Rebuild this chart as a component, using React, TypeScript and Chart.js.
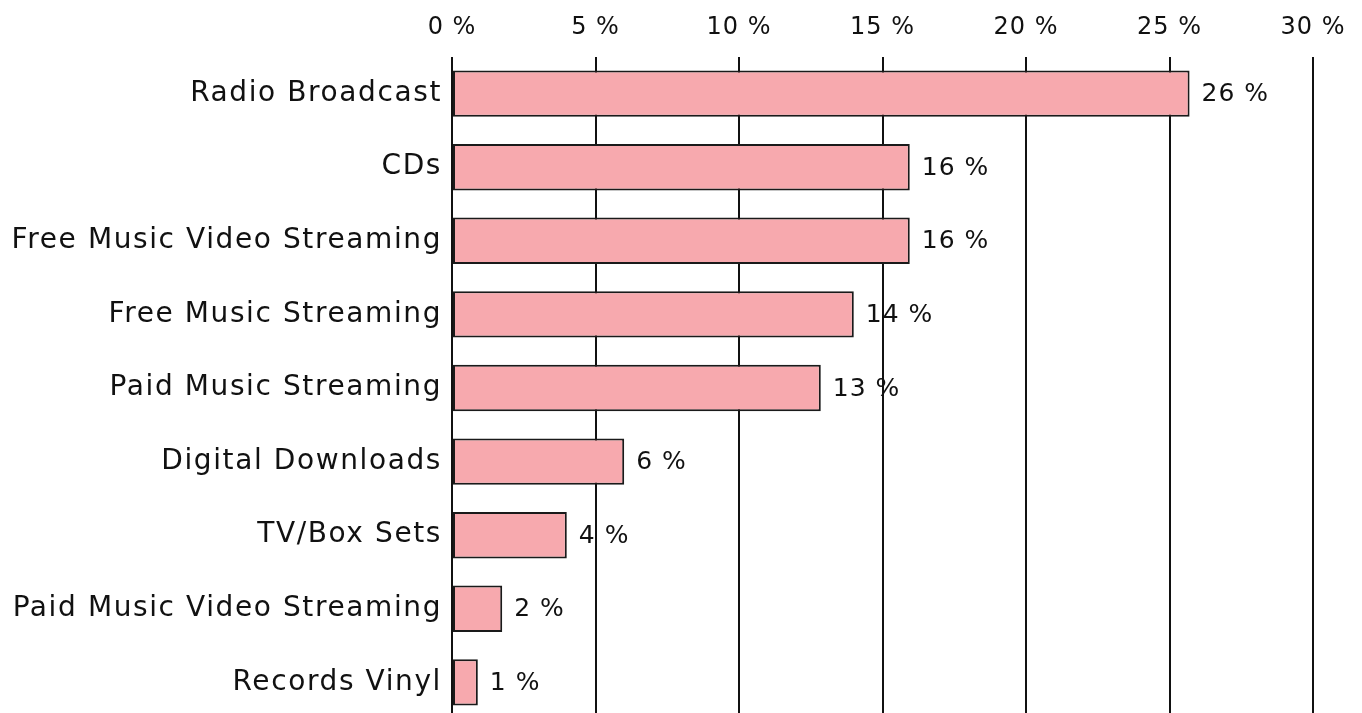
import React, { useEffect, useRef } from "react";
import { Chart, registerables } from "chart.js";

Chart.register(...registerables);

const categories = [
  "Radio Broadcast",
  "CDs",
  "Free Music Video Streaming",
  "Free Music Streaming",
  "Paid Music Streaming",
  "Digital Downloads",
  "TV/Box Sets",
  "Paid Music Video Streaming",
  "Records Vinyl",
];
const shares = [25.7, 15.95, 15.95, 14.0, 12.85, 6.0, 4.0, 1.75, 0.9];
const xTicks = [0, 5, 10, 15, 20, 25, 30];

const FONT = "'DejaVu Sans'";
const NUM_SPACING = "1px";
const CAT_SPACING = "1.6px";

const spacingPatch = {
  id: "spacingPatch",
  beforeLayout(chart: any) {
    chart.ctx.letterSpacing = "0px";
  },
  afterLayout(chart: any) {
    const patch = (scale: any, sp: string) => {
      if (!scale || scale.__patched) return;
      const orig = scale.drawLabels.bind(scale);
      scale.drawLabels = (area: any) => {
        const c = chart.ctx;
        const prev = c.letterSpacing;
        c.letterSpacing = sp;
        orig(area);
        c.letterSpacing = prev;
      };
      scale.__patched = true;
    };
    patch(chart.scales.x, NUM_SPACING);
    patch(chart.scales.y, CAT_SPACING);
  },
};

const valueLabels = {
  id: "valueLabels",
  afterDatasetsDraw(chart: any) {
    const ctx = chart.ctx;
    const meta = chart.getDatasetMeta(0);
    ctx.save();
    ctx.letterSpacing = NUM_SPACING;
    ctx.font = `25px ${FONT}`;
    ctx.fillStyle = "#111";
    ctx.textAlign = "left";
    ctx.textBaseline = "middle";
    meta.data.forEach((bar: any, i: number) => {
      const v = shares[i];
      ctx.fillText(`${Math.round(v)} %`, bar.x + 12, bar.y + 1);
    });
    ctx.restore();
  },
};

export default function App() {
  const ref = useRef<HTMLCanvasElement>(null);
  useEffect(() => {
    if (!ref.current) return;
    const chart = new Chart(ref.current, {
      type: "bar",
      data: {
        labels: categories,
        datasets: [
          {
            data: shares,
            backgroundColor: "#f7a9ae",
            borderColor: "#1a1a1a",
            borderWidth: 2,
            borderSkipped: false,
            categoryPercentage: 0.63,
            barPercentage: 1,
          },
        ],
      },
      plugins: [spacingPatch, valueLabels],
      options: {
        indexAxis: "y",
        animation: false,
        responsive: true,
        maintainAspectRatio: false,
        layout: { padding: { left: 0, right: 0, top: -10, bottom: 0 } },
        plugins: { legend: { display: false }, tooltip: { enabled: false } },
        scales: {
          x: {
            position: "top",
            min: 0,
            max: 30,
            afterBuildTicks: (axis: any) => {
              axis.ticks = xTicks.map((v) => ({ value: v }));
            },
            afterFit: (axis: any) => {
              axis.paddingRight = 41;
            },
            ticks: {
              callback: (v: any) => `${v} %`,
              color: "#111",
              font: { family: FONT, size: 24 },
              padding: 15,
            },
            grid: { color: "#111", lineWidth: 2, drawTicks: false },
            border: { display: false },
          },
          y: {
            afterFit: (axis: any) => {
              axis.width = 444;
            },
            ticks: {
              color: "#111",
              font: { family: FONT, size: 28 },
              padding: 10,
            },
            grid: { display: false, drawTicks: false },
            border: { display: false },
          },
        },
      },
    });
    return () => chart.destroy();
  }, []);
  return (
    <div style={{ width: 1346, height: 705, overflow: "hidden" }}>
      <div style={{ position: "relative", width: 1346, height: 738 }}>
        <canvas ref={ref} />
      </div>
    </div>
  );
}
